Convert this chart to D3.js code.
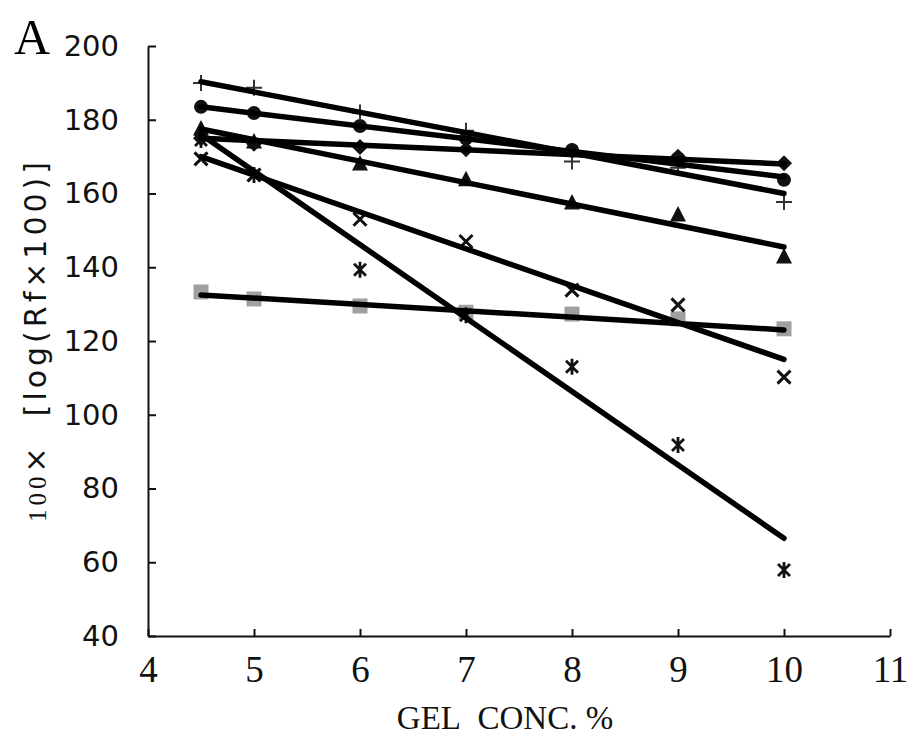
<!DOCTYPE html>
<html>
<head>
  <meta charset="UTF-8">
  <script src="https://cdn.jsdelivr.net/npm/d3@7"></script>
  <style>
    html, body { margin: 0; padding: 0; background: #fff; }
    .ytick text { font-family: 'DejaVu Sans', sans-serif; font-size: 29px; fill: #111; }
    .xtick text { font-family: 'Liberation Serif', serif; font-size: 37px; fill: #111; }
    .domain, .tick line { stroke: #111; stroke-width: 2; }
  </style>
</head>
<body>
  <div id="chart"></div>
  <script>
    // gel concentrations (x)
    var conc = [4.5, 5, 6, 7, 8, 9, 10];

    // 100 x log(Rf x 100), one list per marker type
    var plusVals     = [190.0, 188.7, 182.0, 177.0, 168.7, 167.0, 157.7];
    var circleVals   = [183.5, 181.8, 178.3, 175.0, 171.8, 169.5, 163.7];
    var diamondVals  = [175.0, 173.5, 172.6, 172.0, 171.5, 170.0, 168.2];
    var triangleVals = [177.5, 174.0, 168.0, 163.7, 157.4, 154.2, 142.8];
    var crossVals    = [169.4, 165.0, 153.0, 147.0, 133.8, 129.8, 110.2];
    var starVals     = [174.5, 165.0, 139.3, 127.0, 113.0,  91.8,  57.9];
    var squareVals   = [133.3, 131.4, 129.5, 127.8, 127.3, 126.0, 123.3];

    // regression lines, value at x = 4.5 and x = 10
    var lineX     = [4.5, 10];
    var plusLine     = [190.3, 160.0];
    var circleLine   = [183.5, 164.5];
    var diamondLine  = [175.0, 168.0];
    var triangleLine = [177.5, 145.5];
    var crossLine    = [170.0, 115.0];
    var starLine     = [176.0, 66.5];
    var squareLine   = [132.5, 123.0];

    var xTicks = [4, 5, 6, 7, 8, 9, 10, 11];
    var yTicks = [40, 60, 80, 100, 120, 140, 160, 180, 200];

    var series = [
      { name: "square",   vals: squareVals,   line: squareLine },
      { name: "star",     vals: starVals,     line: starLine },
      { name: "cross",    vals: crossVals,    line: crossLine },
      { name: "triangle", vals: triangleVals, line: triangleLine },
      { name: "diamond",  vals: diamondVals,  line: diamondLine },
      { name: "circle",   vals: circleVals,   line: circleLine },
      { name: "plus",     vals: plusVals,     line: plusLine }
    ];

    var width = 910, height = 740;
    var margin = { top: 46, right: 20, bottom: 104, left: 148 };

    var svg = d3.select("#chart").append("svg")
      .attr("width", width)
      .attr("height", height);

    var x = d3.scaleLinear().domain([4, 11]).range([margin.left, 890]);
    var y = d3.scaleLinear().domain([40, 200]).range([height - margin.bottom, margin.top]);

    svg.append("g")
      .attr("class", "xtick")
      .attr("transform", "translate(0," + y(40) + ")")
      .call(d3.axisBottom(x).tickValues(xTicks).tickFormat(d3.format("d"))
        .tickSizeInner(-7).tickSizeOuter(0).tickPadding(20));

    svg.append("g")
      .attr("class", "ytick")
      .attr("transform", "translate(" + x(4) + ",0)")
      .call(d3.axisLeft(y).tickValues(yTicks).tickFormat(d3.format("d"))
        .tickSizeInner(-8).tickSizeOuter(0).tickPadding(29));

    // markers
    var g = svg.append("g");
    series.forEach(function(s) {
      s.vals.forEach(function(v, i) {
        var cx = x(conc[i]), cy = y(v);
        var m = g.append("g").attr("transform", "translate(" + cx + "," + cy + ")");
        if (s.name === "square") {
          m.append("rect").attr("x", -7.5).attr("y", -7.5).attr("width", 15).attr("height", 15).attr("fill", "#a0a0a0");
        } else if (s.name === "circle") {
          m.append("circle").attr("r", 7).attr("fill", "#111");
        } else if (s.name === "diamond") {
          m.append("path").attr("d", "M0,-8L8,0L0,8L-8,0Z").attr("fill", "#111");
        } else if (s.name === "triangle") {
          m.append("path").attr("d", "M0,-9L8,6.5L-8,6.5Z").attr("fill", "#111");
        } else if (s.name === "plus") {
          m.append("path").attr("d", "M-8,0H8M0,-8V8").attr("stroke", "#333").attr("stroke-width", 2);
        } else if (s.name === "cross") {
          m.append("path").attr("d", "M-6.5,-6.5L6.5,6.5M-6.5,6.5L6.5,-6.5").attr("stroke", "#111").attr("stroke-width", 3);
        } else if (s.name === "star") {
          m.append("path").attr("d", "M-6,-6L6,6M-6,6L6,-6M0,-8V8").attr("stroke", "#111").attr("stroke-width", 2.8);
        }
      });
    });

    // fitted lines
    var line = d3.line()
      .x(function(d, i) { return x(lineX[i]); })
      .y(function(d) { return y(d); });
    svg.append("g").selectAll("path")
      .data(series)
      .enter()
      .append("path")
      .attr("d", function(s) { return line(s.line); })
      .attr("fill", "none")
      .attr("stroke", "#000")
      .attr("stroke-width", 5.5)
      .attr("stroke-linecap", "round");

    // titles
    svg.append("text")
      .attr("x", 14).attr("y", 54)
      .style("font-family", "'Liberation Serif', serif")
      .style("font-size", "50px")
      .text("A");

    svg.append("text")
      .attr("x", 505).attr("y", 729)
      .attr("text-anchor", "middle")
      .style("font-family", "'Liberation Serif', serif")
      .style("font-size", "33px")
      .style("fill", "#111")
      .text("GEL\u00a0\u00a0CONC. %");

    var yl = svg.append("text")
      .attr("transform", "translate(46,340) rotate(-90)")
      .attr("text-anchor", "middle")
      .style("font-family", "'DejaVu Sans', sans-serif")
      .style("font-size", "30px")
      .style("letter-spacing", "4px")
      .style("fill", "#111");
    yl.append("tspan").style("font-family", "'Liberation Serif', serif").style("font-size", "25px").text("100");
    yl.append("tspan").text("\u00d7\u00a0\u00a0[log(Rf\u00d7100)]");
  </script>
</body>
</html>
